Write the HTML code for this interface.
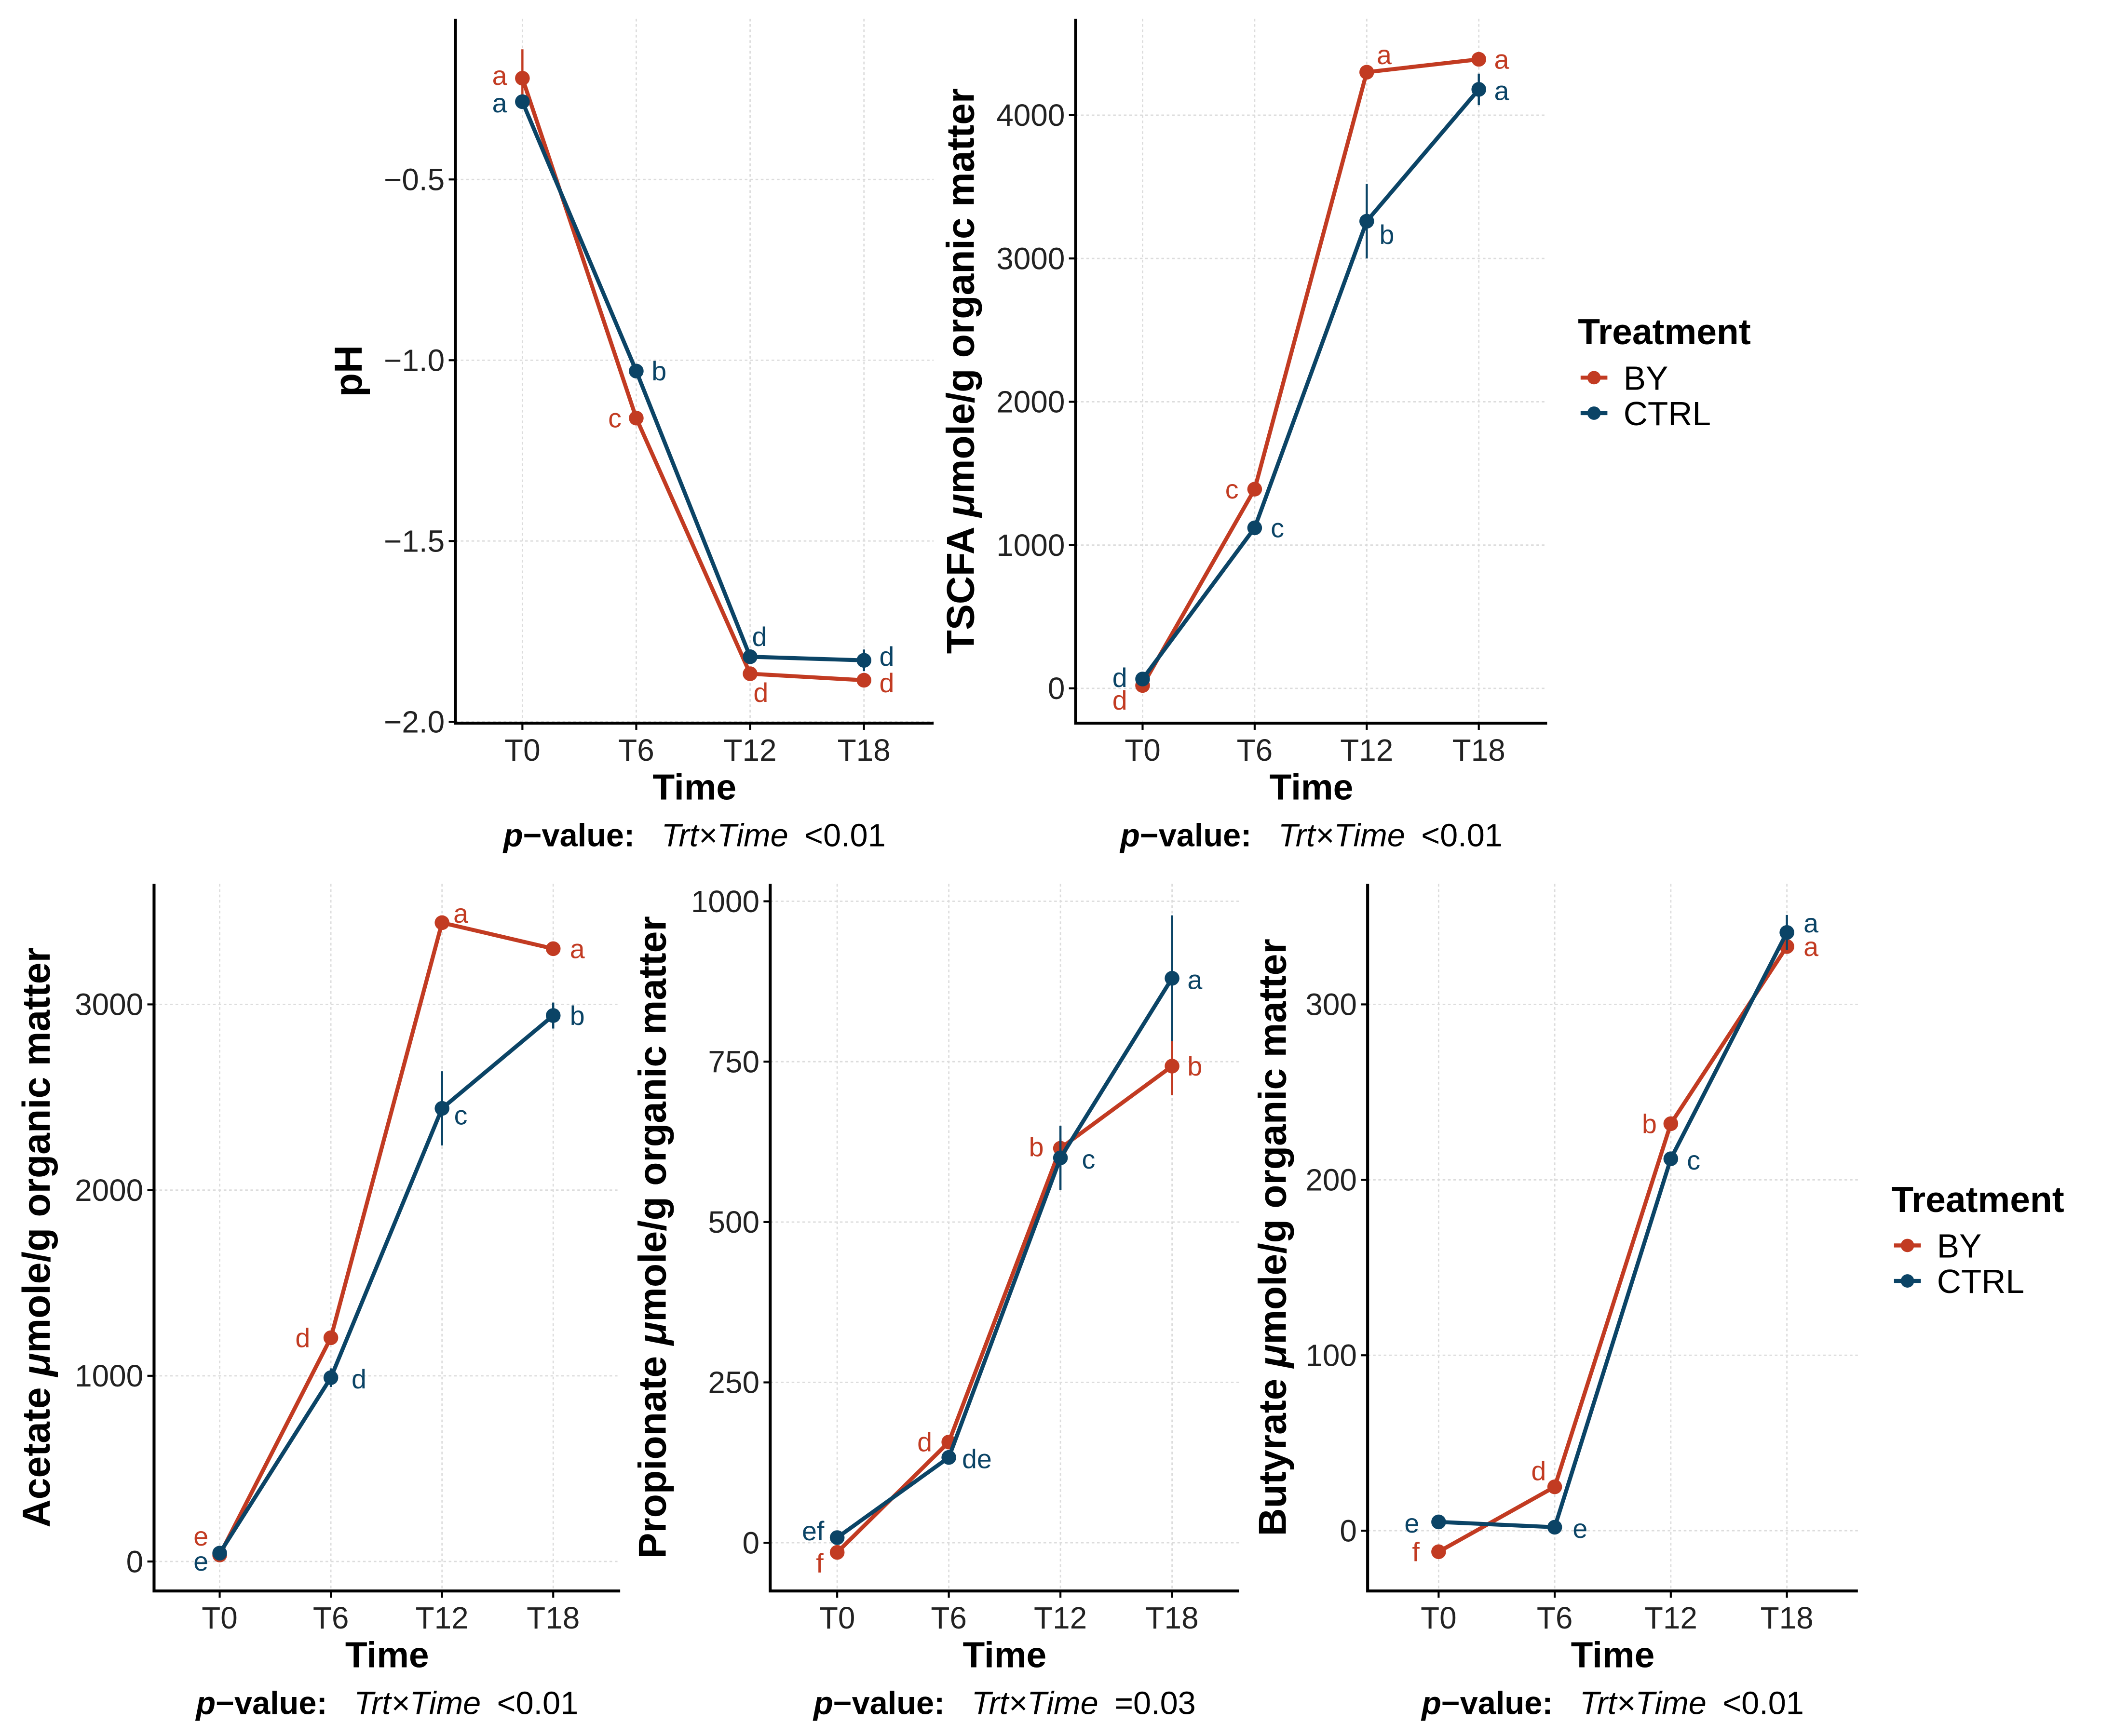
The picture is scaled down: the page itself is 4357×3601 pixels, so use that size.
<!DOCTYPE html>
<html><head><meta charset="utf-8"><style>
html,body{margin:0;padding:0;background:#fff;}
svg{display:block;font-family:"Liberation Sans",Arial,sans-serif;}
</style></head><body>
<svg id="chart" width="4357" height="3601" viewBox="0 0 1568.5 1296.3" preserveAspectRatio="none" xmlns="http://www.w3.org/2000/svg"></svg>
<script>
const categories = ["T0","T6","T12","T18"];
const phBY = [-0.22,-1.16,-1.867,-1.885];
const phCTRL = [-0.285,-1.03,-1.82,-1.83];
const phErrBY = [0.08,0.02,0.02,0.02];
const phErrCTRL = [0.02,0.02,0.02,0.03];
const phTicks = [-0.5,-1.0,-1.5,-2.0];
const phLettersBY = ["a","c","d","d"];
const phLettersCTRL = ["a","b","d","d"];
const tsBY = [20,1390,4300,4390];
const tsCTRL = [65,1120,3260,4180];
const tsErrBY = [20,40,30,40];
const tsErrCTRL = [20,40,260,110];
const tsTicks = [0,1000,2000,3000,4000];
const tsLettersBY = ["d","c","a","a"];
const tsLettersCTRL = ["d","c","b","a"];
const acBY = [35,1205,3440,3300];
const acCTRL = [45,990,2440,2940];
const acErrBY = [10,20,20,20];
const acErrCTRL = [10,50,200,70];
const acTicks = [0,1000,2000,3000];
const acLettersBY = ["e","d","a","a"];
const acLettersCTRL = ["e","d","c","b"];
const prBY = [-15,157,615,743];
const prCTRL = [8,133,600,880];
const prErrBY = [5,10,15,45];
const prErrCTRL = [5,8,50,98];
const prTicks = [0,250,500,750,1000];
const prLettersBY = ["f","d","b","b"];
const prLettersCTRL = ["ef","de","c","a"];
const buBY = [-12,25,232,333];
const buCTRL = [5,2,212,341];
const buErrBY = [2,3,3,3];
const buErrCTRL = [2,2,3,10];
const buTicks = [0,100,200,300];
const buLettersBY = ["f","d","b","a"];
const buLettersCTRL = ["e","e","c","a"];

const RED="#c23b22", BLUE="#0b4466";
const NS="http://www.w3.org/2000/svg";
const svg=document.getElementById('chart');
function mk(tag,attrs,parent,txt){const e=document.createElementNS(NS,tag);for(const k in attrs)e.setAttribute(k,attrs[k]);if(txt!==undefined)e.textContent=txt;(parent||svg).appendChild(e);return e;}

function panel(cfg){
  const g=mk('g',{});
  
  
  const xS=i=>cfg.x0+i*(cfg.x3-cfg.x0)/3;
  const yS=v=>cfg.yA+(v-cfg.vA)*(cfg.yB-cfg.yA)/(cfg.vB-cfg.vA);
  cfg.ticks.forEach(t=>{const l=mk('line',{x1:cfg.L,x2:cfg.R,y1:yS(t),y2:yS(t),stroke:'#dcdcdc','stroke-width':1,'stroke-dasharray':'2,2'},g);
    });
  categories.forEach((c,i)=>{const l=mk('line',{x1:xS(i),x2:xS(i),y1:cfg.T,y2:cfg.B,stroke:'#dcdcdc','stroke-width':1,'stroke-dasharray':'2,2'},g);
    });
  const ax=mk('path',{d:`M${cfg.L},${cfg.T} V${cfg.B} H${cfg.R}`,fill:'none',stroke:'#000','stroke-width':2.2},g);
  
  cfg.ticks.forEach(t=>{mk('line',{x1:cfg.L-5,x2:cfg.L,y1:yS(t),y2:yS(t),stroke:'#000','stroke-width':1.5},g);
    const tx=mk('text',{x:cfg.L-8,y:yS(t)+8,'text-anchor':'end','font-size':23,fill:'#222'},g,cfg.fmt(t));
    });
  categories.forEach((c,i)=>{mk('line',{x1:xS(i),x2:xS(i),y1:cfg.B,y2:cfg.B+5,stroke:'#000','stroke-width':1.5},g);
    const tx=mk('text',{x:xS(i),y:cfg.B+28,'text-anchor':'middle','font-size':23,fill:'#222'},g,c);
    });
  const cx=(cfg.L+cfg.R)/2;
  const xt=mk('text',{x:cx,y:cfg.B+57,'text-anchor':'middle','font-size':27,'font-weight':'bold'},g,'Time');
  
  const pv=mk('text',{x:cx,y:cfg.B+92,'text-anchor':'middle','font-size':24},g);
  
  mk('tspan',{'font-weight':'bold','font-style':'italic'},pv,'p');
  mk('tspan',{'font-weight':'bold'},pv,'\u2212value:');
  mk('tspan',{'font-style':'italic',dx:20},pv,'Trt\u00d7Time');
  mk('tspan',{dx:12},pv,cfg.p);
  const yt=mk('text',{x:0,y:0,'text-anchor':'middle','font-size':29,'font-weight':'bold',transform:`translate(${cfg.ytx},${(cfg.T+cfg.B)/2}) rotate(-90)`},g);
  
  if(cfg.ylab2){mk('tspan',{},yt,cfg.ylab+' ');mk('tspan',{'font-style':'italic'},yt,'\u03bc');mk('tspan',{},yt,'mole/g organic matter');}
  else yt.textContent=cfg.ylab;
  [[cfg.by,cfg.ebY,cfg.lbY,RED,'by',cfg.offBY],[cfg.ct,cfg.ebC,cfg.lbC,BLUE,'ctrl',cfg.offC]].forEach(([vals,errs,labs,col,nm,offs])=>{
    const sg=mk('g',{},g);
    const ln=mk('polyline',{points:vals.map((v,i)=>xS(i)+','+yS(v)).join(' '),fill:'none',stroke:col,'stroke-width':3},sg);
    
    vals.forEach((v,i)=>{
      const e=mk('line',{x1:xS(i),x2:xS(i),y1:yS(v-errs[i]),y2:yS(v+errs[i]),stroke:col,'stroke-width':1.6},sg);
      
      const c=mk('circle',{cx:xS(i),cy:yS(v),r:5.5,fill:col},sg);
      
      const t=mk('text',{x:xS(i)+offs[i][0],y:yS(v)+offs[i][1],'text-anchor':'middle','font-size':20,fill:col},sg,labs[i]);
      
    });
  });
}
function legend(x,y){
  const g=mk('g',{});
  const t=mk('text',{x:x,y:y,'font-size':27,'font-weight':'bold'},g,'Treatment');
  
  [['BY',RED],['CTRL',BLUE]].forEach(([n,c],k)=>{
    const eg=mk('g',{},g);
    const yy=y+25+k*26.5;
    mk('line',{x1:x+2,x2:x+22,y1:yy,y2:yy,stroke:c,'stroke-width':3},eg);
    mk('circle',{cx:x+12,cy:yy,r:5,fill:c},eg);
    mk('text',{x:x+34,y:yy+9,'font-size':25},eg,n);
  });
}
const f0=t=>String(t).replace('-','\u2212');
panel({name:'ph',L:340,R:697,T:14,B:540,x0:390,x3:645,yA:134,vA:-0.5,yB:539,vB:-2.0,ticks:phTicks,fmt:t=>(t<0?'\u2212':'')+Math.abs(t).toFixed(1),
  ytx:270,ylab:'pH',by:phBY,ct:phCTRL,ebY:phErrBY,ebC:phErrCTRL,lbY:phLettersBY,lbC:phLettersCTRL,p:'<0.01',
  offBY:[[-17,5],[-16,7],[8,21],[17,9]],offC:[[-17,8],[17,7],[7,-8],[17,4]]});
panel({name:'tscfa',L:803,R:1155,T:14,B:540,x0:853,x3:1104,yA:514,vA:0,yB:86,vB:4000,ticks:tsTicks,fmt:f0,
  ytx:727,ylab:'TSCFA',ylab2:true,by:tsBY,ct:tsCTRL,ebY:tsErrBY,ebC:tsErrCTRL,lbY:tsLettersBY,lbC:tsLettersCTRL,p:'<0.01',
  offBY:[[-17,18],[-17,7],[13,-6],[17,7]],offC:[[-17,6],[17,7],[15,17],[17,8]]});
panel({name:'acetate',L:115,R:463,T:660,B:1188,x0:164,x3:413,yA:1166,vA:0,yB:750,vB:3000,ticks:acTicks,fmt:f0,
  ytx:37,ylab:'Acetate',ylab2:true,by:acBY,ct:acCTRL,ebY:acErrBY,ebC:acErrCTRL,lbY:acLettersBY,lbC:acLettersCTRL,p:'<0.01',
  offBY:[[-14,-7],[-21,7],[14,0],[18,7]],offC:[[-14,13],[21,8],[14,12],[18,7]]});
panel({name:'propionate',L:575,R:925,T:660,B:1188,x0:625,x3:875,yA:1152,vA:0,yB:673,vB:1000,ticks:prTicks,fmt:f0,
  ytx:497,ylab:'Propionate',ylab2:true,by:prBY,ct:prCTRL,ebY:prErrBY,ebC:prErrCTRL,lbY:prLettersBY,lbC:prLettersCTRL,p:'=0.03',
  offBY:[[-13,15],[-18,7],[-18,6],[17,7]],offC:[[-18,2],[21,8],[21,8],[17,8]]});
panel({name:'butyrate',L:1021,R:1387,T:660,B:1188,x0:1074,x3:1334,yA:1143,vA:0,yB:750,vB:300,ticks:buTicks,fmt:f0,
  ytx:960,ylab:'Butyrate',ylab2:true,by:buBY,ct:buCTRL,ebY:buErrBY,ebC:buErrCTRL,lbY:buLettersBY,lbC:buLettersCTRL,p:'<0.01',
  offBY:[[-17,7],[-12,-5],[-16,7],[18,7]],offC:[[-20,8],[19,8],[17,8],[18,0]]});
legend(1178,257);
legend(1412,905);
</script>
</body></html>
